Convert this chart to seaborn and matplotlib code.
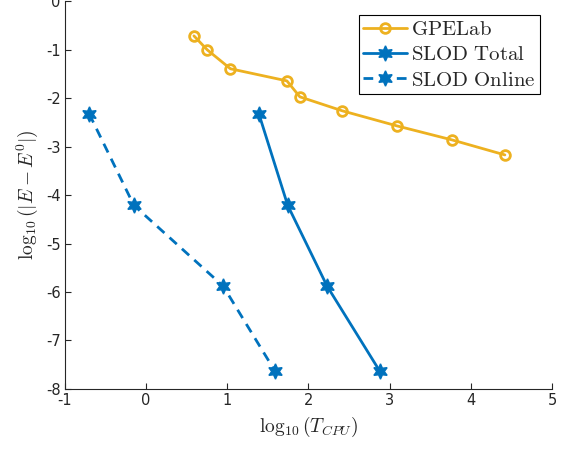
import numpy as np
import pandas as pd
import seaborn as sns
import matplotlib.pyplot as plt

# values
gpelab_x = [0.59, 0.755, 1.04, 1.735, 1.895, 2.42, 3.09, 3.77, 4.42]
gpelab_y = [-0.71, -1.00, -1.39, -1.64, -1.97, -2.26, -2.57, -2.86, -3.17]
total_x = [1.39, 1.745, 2.23, 2.88]
total_y = [-2.32, -4.21, -5.88, -7.64]
online_x = [-0.70, -0.15, 0.95, 1.59]
online_y = [-2.32, -4.21, -5.88, -7.64]

labels = [r"$\mathrm{GPELab}$", r"$\mathrm{SLOD\ Total}$", r"$\mathrm{SLOD\ Online}$"]
xticks = [-1, 0, 1, 2, 3, 4, 5]
yticks = [0, -1, -2, -3, -4, -5, -6, -7, -8]

yellow = "#EDB120"
blue = "#0072BD"
axcol = "#262626"

sns.set_style("ticks")
plt.rcParams["mathtext.fontset"] = "cm"
plt.rcParams["font.family"] = ["DejaVu Sans"]

fig = plt.figure(figsize=(5.67, 4.5), dpi=100)
ax = fig.add_axes([0.1143, 0.1362, 0.9735 - 0.1143, 0.9967 - 0.1362])

hexagram = (6, 1, 0)

sns.lineplot(x=gpelab_x, y=gpelab_y, sort=False, ax=ax, color=yellow, lw=2,
             marker="o", markersize=7, markerfacecolor="none",
             markeredgecolor=yellow, markeredgewidth=2, label=labels[0])
sns.lineplot(x=total_x, y=total_y, sort=False, ax=ax, color=blue, lw=2,
             marker=hexagram, markersize=11, markerfacecolor=blue,
             markeredgecolor=blue, markeredgewidth=1, label=labels[1])
sns.lineplot(x=online_x, y=online_y, sort=False, ax=ax, color=blue, lw=2,
             linestyle=(0, (3.5, 2.5)), marker=hexagram, markersize=11,
             markerfacecolor=blue, markeredgecolor=blue, markeredgewidth=1,
             label=labels[2])

ax.set_xlim(-1, 5)
ax.set_ylim(-8, 0)
ax.set_xticks(xticks)
ax.set_yticks(yticks)
ax.set_xticklabels([str(t) for t in xticks])
ax.set_yticklabels([str(t) for t in yticks])
ax.tick_params(direction="in", length=4, width=0.8, colors=axcol, labelsize=10.5, pad=3)
for s in ["top", "right"]:
    ax.spines[s].set_visible(False)
for s in ["left", "bottom"]:
    ax.spines[s].set_color(axcol)
    ax.spines[s].set_linewidth(0.8)

ax.set_xlabel(r"$\log_{10}(T_{CPU})$", fontsize=14, color=axcol, labelpad=5)
ax.set_ylabel(r"$\log_{10}(|E-E^0|)$", fontsize=14, color=axcol, labelpad=4)

leg = ax.legend(loc="upper right", bbox_to_anchor=(0.975, 0.965), fontsize=15,
                frameon=True, fancybox=False, framealpha=1, edgecolor="black",
                handlelength=2.1, handletextpad=0.2, borderpad=0.2,
                labelspacing=0.25, borderaxespad=0)
leg.get_frame().set_linewidth(0.8)

fig.savefig("out.png", dpi=100)
